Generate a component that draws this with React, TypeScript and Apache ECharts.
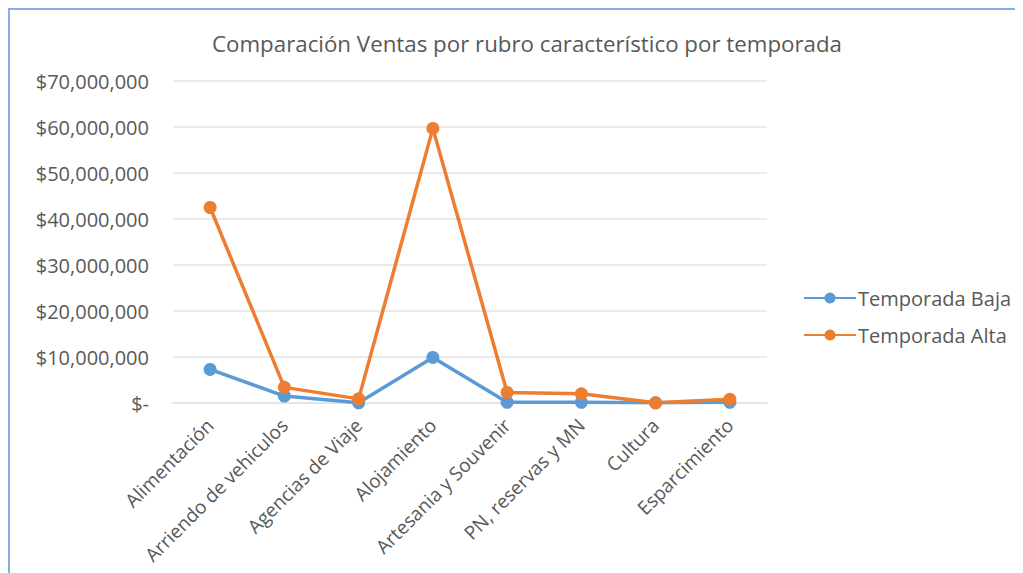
import React, { useEffect, useRef } from "react";
import * as echarts from "echarts";

const categories = [
  "Alimentación",
  "Arriendo de vehiculos",
  "Agencias de Viaje",
  "Alojamiento",
  "Artesania y Souvenir",
  "PN, reservas y MN",
  "Cultura",
  "Esparcimiento",
];
const temporadaBaja = [7300000, 1500000, 50000, 9900000, 150000, 150000, 30000, 150000];
const temporadaAlta = [42500000, 3400000, 900000, 59700000, 2300000, 2000000, 50000, 800000];
const yTicks = { min: 0, max: 70000000, interval: 10000000 };

const FONT = "'Open Sans', 'Noto Sans', sans-serif";
const GREY = "#595959";

export default function App() {
  const ref = useRef<HTMLDivElement>(null);
  useEffect(() => {
    if (!ref.current) return;
    const chart = echarts.init(ref.current, undefined, { renderer: "svg" });
    chart.setOption({
      animation: false,
      backgroundColor: "#ffffff",
      title: {
        text: "Comparación Ventas por rubro característico por temporada",
        left: 512,
        top: 17,
        textAlign: "center",
        textStyle: { fontFamily: FONT, fontSize: 22.3, fontWeight: "normal", color: GREY },
      },
      legend: {
        orient: "vertical",
        left: 793,
        top: 278,
        padding: 0,
        itemWidth: 52,
        itemHeight: 14,
        itemGap: 17,
        textStyle: { fontFamily: FONT, fontSize: 20, color: GREY, padding: [0, 0, 0, -3] },
        data: ["Temporada Baja", "Temporada Alta"],
      },
      grid: { left: 163, right: 256, top: 71, bottom: 170, containLabel: false },
      xAxis: {
        type: "category",
        data: categories,
        boundaryGap: true,
        axisLine: { show: true, lineStyle: { color: "#e3e3e3", width: 1.5 } },
        axisTick: { show: false },
        axisLabel: {
          rotate: 45,
          interval: 0,
          margin: 19,
          fontFamily: FONT,
          fontSize: 19,
          color: GREY,
        },
      },
      yAxis: {
        type: "value",
        min: yTicks.min,
        max: yTicks.max,
        interval: yTicks.interval,
        axisLine: { show: false },
        axisTick: { show: false },
        splitLine: { lineStyle: { color: "#e3e3e3", width: 1.5 } },
        axisLabel: {
          margin: 24,
          fontFamily: FONT,
          fontSize: 20,
          color: GREY,
          formatter: (v: number) =>
            v === 0 ? "$-" : "$" + v.toLocaleString("en-US"),
        },
      },
      series: [
        {
          name: "Temporada Baja",
          type: "line",
          data: temporadaBaja,
          symbol: "circle",
          symbolSize: 13,
          lineStyle: { width: 3.5, color: "#5b9bd5" },
          itemStyle: { color: "#5b9bd5" },
          z: 2,
        },
        {
          name: "Temporada Alta",
          type: "line",
          data: temporadaAlta,
          symbol: "circle",
          symbolSize: 13,
          lineStyle: { width: 3.5, color: "#ed7d31" },
          itemStyle: { color: "#ed7d31" },
          z: 3,
        },
      ],
    });
    return () => chart.dispose();
  }, []);
  return (
    <div
      style={{
        width: 1015,
        height: 565,
        borderLeft: "2px solid #85aee6",
        borderTop: "2px solid #85aee6",
        boxSizing: "border-box",
        overflow: "hidden",
      }}
    >
      <div ref={ref} style={{ width: 1013, height: 563 }} />
    </div>
  );
}
